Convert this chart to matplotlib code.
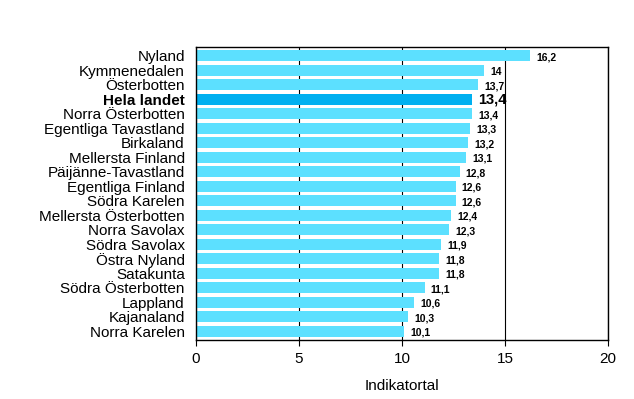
import matplotlib.pyplot as plt

plt.rcParams['font.family'] = ['Liberation Sans', 'DejaVu Sans']

regions = ['Nyland', 'Kymmenedalen', 'Österbotten', 'Hela landet', 'Norra Österbotten',
           'Egentliga Tavastland', 'Birkaland', 'Mellersta Finland', 'Päijänne-Tavastland',
           'Egentliga Finland', 'Södra Karelen', 'Mellersta Österbotten', 'Norra Savolax',
           'Södra Savolax', 'Östra Nyland', 'Satakunta', 'Södra Österbotten', 'Lappland',
           'Kajanaland', 'Norra Karelen']
values = [16.2, 14, 13.7, 13.4, 13.4, 13.3, 13.2, 13.1, 12.8, 12.6, 12.6, 12.4, 12.3,
          11.9, 11.8, 11.8, 11.1, 10.6, 10.3, 10.1]
labels = ['16,2', '14', '13,7', '13,4', '13,4', '13,3', '13,2', '13,1', '12,8', '12,6',
          '12,6', '12,4', '12,3', '11,9', '11,8', '11,8', '11,1', '10,6', '10,3', '10,1']
highlight = 'Hela landet'

fig = plt.figure(figsize=(6.34, 3.99), dpi=100)
ax = fig.add_axes([0.309, 0.148, 0.65, 0.734])

ypos = list(range(len(regions)))[::-1]
colors = ['#00B0F0' if r == highlight else '#5CE0FF' for r in regions]
ax.barh(ypos, values, height=0.75, color=colors, zorder=2)

for y, v, lab, r in zip(ypos, values, labels, regions):
    if r == highlight:
        ax.text(v + 0.3, y, lab, va='center', ha='left', fontsize=10.5, fontweight='bold')
    else:
        ax.text(v + 0.3, y - 0.1, lab, va='center', ha='left', fontsize=7.5, fontweight='bold')

ax.set_xlim(0, 20)
ax.set_ylim(-0.6, len(regions) - 0.4)
ax.set_xticks([0, 5, 10, 15, 20])
ax.set_yticks(ypos)
ax.set_yticklabels(regions, fontsize=11)
for tl, r in zip(ax.get_yticklabels(), regions):
    if r == highlight:
        tl.set_fontweight('bold')
ax.tick_params(axis='y', length=0, pad=8)
ax.tick_params(axis='x', labelsize=11, length=4, direction='out', pad=5)
ax.xaxis.grid(True, color='black', linewidth=0.8, zorder=0)
ax.set_axisbelow(True)
for s in ax.spines.values():
    s.set_linewidth(1)
ax.set_xlabel('Indikatortal', fontsize=11, labelpad=9)

fig.savefig('out.png', dpi=100)
